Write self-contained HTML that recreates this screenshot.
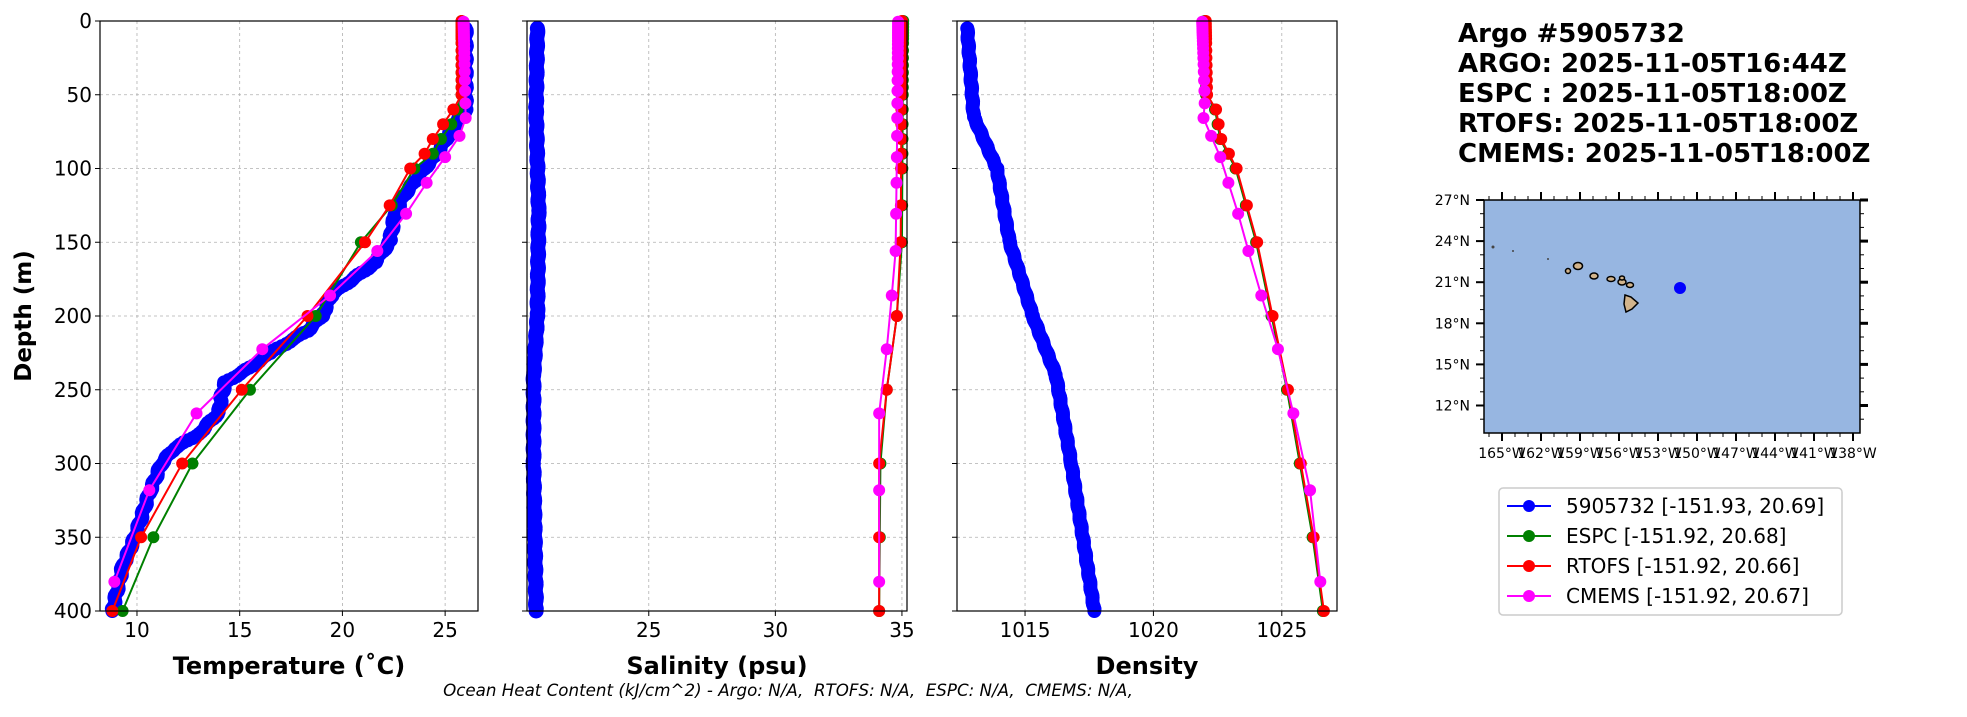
<!DOCTYPE html><html><head><meta charset="utf-8"><style>
body{margin:0;background:#fff;}
svg text{font-family:"DejaVu Sans","Liberation Sans",sans-serif;}
</style></head><body>
<svg id="s" width="1967" height="712" xmlns="http://www.w3.org/2000/svg">
<rect width="1967" height="712" fill="#fff"/>
<g id="g"></g>
<g font-weight="bold" font-size="26" fill="#000">
<text x="1458" y="42">Argo #5905732</text>
<text x="1458" y="72">ARGO: 2025-11-05T16:44Z</text>
<text x="1458" y="102">ESPC : 2025-11-05T18:00Z</text>
<text x="1458" y="132">RTOFS: 2025-11-05T18:00Z</text>
<text x="1458" y="162">CMEMS: 2025-11-05T18:00Z</text>
</g>
<text x="788" y="696" font-size="16.7" font-style="italic" text-anchor="middle" style="white-space:pre">Ocean Heat Content (kJ/cm^2) - Argo: N/A,&#160; RTOFS: N/A,&#160; ESPC: N/A,&#160; CMEMS: N/A,</text>
<text transform="translate(31,316) rotate(-90)" font-size="23" font-weight="bold" text-anchor="middle">Depth (m)</text>
<text x="289" y="674" font-size="24" font-weight="bold" text-anchor="middle">Temperature (˚C)</text>
<text x="717" y="674" font-size="24" font-weight="bold" text-anchor="middle">Salinity (psu)</text>
<text x="1147" y="674" font-size="24" font-weight="bold" text-anchor="middle">Density</text>
</svg>
<script>
const g=document.getElementById('g');let h='';
const T=21,B=611;const yd=d=>T+d*(B-T)/400;
function panel(L,R,x0,x1,ticks,data,grid){
 const xv=v=>L+(v-x0)*(R-L)/(x1-x0);
 h+=`<g stroke="#b0b0b0" stroke-width="0.8" stroke-dasharray="3,3">`;
 for(let d=50;d<400;d+=50)h+=`<line x1="${L}" x2="${R}" y1="${yd(d)}" y2="${yd(d)}"/>`;
 ticks.forEach(t=>h+=`<line x1="${xv(t)}" x2="${xv(t)}" y1="${T}" y2="${B}"/>`);
 h+=`</g><g>`;
 data.forEach(([col,pts,r,dense])=>{
  let P=pts;
  if(dense){P=[];for(let i=0;i<pts.length-1;i++){const[a,b]=[pts[i],pts[i+1]];const n=Math.ceil((b[0]-a[0])/1.5);for(let k=0;k<n;k++){const f=k/n;P.push([a[0]+f*(b[0]-a[0]),a[1]+f*(b[1]-a[1])+(Math.sin(i*7+k)*0.02*(dense))]);}}P.push(pts[pts.length-1]);}
  h+=`<polyline fill="none" stroke="${col}" stroke-width="2" points="${P.map(p=>xv(p[1])+','+yd(p[0])).join(' ')}"/>`;
  P.forEach(p=>h+=`<circle cx="${xv(p[1])}" cy="${yd(p[0])}" r="${r}" fill="${col}"/>`);
 });
 h+=`</g><rect x="${L}" y="${T}" width="${R-L}" height="${B-T}" fill="none" stroke="#000" stroke-width="1.2"/>`;
 ticks.forEach(t=>h+=`<line x1="${xv(t)}" x2="${xv(t)}" y1="${B}" y2="${B+5}" stroke="#000"/><text x="${xv(t)}" y="${B+26}" font-size="20" text-anchor="middle">${t}</text>`);
 for(let d=0;d<=400;d+=50){h+=`<line x1="${L-5}" x2="${L}" y1="${yd(d)}" y2="${yd(d)}" stroke="#000"/>`;if(grid)h+=`<text x="${L-8}" y="${yd(d)+7}" font-size="20" text-anchor="end">${d}</text>`;}
}
const ED=[0,2,4,6,8,10,12,15,20,25,30,35,40,45,50,60,70,80,90,100,125,150,200,250,300,350,400];
const CD=[0.5,1.5,2.6,3.8,5,6.4,7.9,9.6,11.4,13.5,15.8,18.5,21.6,25.2,29.4,34.4,40.3,47.4,55.8,65.8,77.9,92.3,109.7,130.7,155.9,186.1,222.5,266,318.1,380.2];
function interp(tab,d){for(let i=0;i<tab.length-1;i++){if(d<=tab[i+1][0]){const f=(d-tab[i][0])/(tab[i+1][0]-tab[i][0]);return tab[i][1]+f*(tab[i+1][1]-tab[i][1]);}}return tab[tab.length-1][1];}
const mk=(D,tab)=>D.map(d=>[d,interp(tab,d)]);
const aT=[[5,26.0],[60,26.0],[70,25.5],[90,24.6],[100,24.0],[120,22.9],[135,22.5],[150,22.3],[165,21.5],[175,20.5],[185,19.5],[200,19.0],[210,18.3],[225,16.5],[235,15.5],[245,14.3],[255,14.1],[265,14.0],[280,13.0],[290,11.8],[300,11.2],[320,10.6],[350,9.9],[370,9.3],[400,8.8]];
const eT=[[0,25.8],[50,25.8],[60,25.6],[70,25.3],[80,24.8],[90,24.4],[100,23.5],[125,22.4],[150,20.9],[200,18.7],[250,15.5],[300,12.7],[350,10.8],[400,9.3]];
const rT=[[0,25.8],[50,25.8],[60,25.4],[70,24.9],[80,24.4],[90,24.0],[100,23.3],[125,22.3],[150,21.1],[200,18.3],[250,15.1],[300,12.2],[350,10.2],[400,8.8]];
const cT=[[0,25.9],[65.8,26.0],[77.9,25.7],[92.3,25.0],[109.7,24.1],[130.7,23.1],[155.9,21.7],[186.1,19.4],[222.5,16.1],[266,12.9],[318.1,10.6],[380.2,8.9]];
panel(100,478,8.2,26.6,[10,15,20,25],[["#0000ff",aT,7,3],["#008000",mk(ED,eT),6],["#ff0000",mk(ED,rT),6],["#ff00ff",mk(CD,cT),6]],true);
const aS=[[5,20.6],[60,20.55],[130,20.65],[200,20.6],[240,20.45],[300,20.45],[400,20.55]];
const eS=[[0,35.05],[150,35.0],[200,34.8],[250,34.4],[300,34.15],[400,34.1]];
const rS=[[0,35.0],[150,34.95],[200,34.8],[250,34.4],[300,34.1],[400,34.1]];
const cS=[[0,34.85],[92,34.8],[156,34.75],[186,34.6],[222.5,34.4],[266,34.1],[400,34.1]];
panel(527,907,20.19,35.2,[25,30,35],[["#0000ff",aS,7.5,1],["#008000",mk(ED,eS),6],["#ff0000",mk(ED,rS),6],["#ff00ff",mk(CD,cS),6]],false);
const aD=[[5,1012.75],[65,1013.0],[100,1013.9],[150,1014.4],[200,1015.3],[240,1016.2],[300,1016.8],[400,1017.7]];
const eD=[[0,1022.0],[50,1022.05],[60,1022.4],[80,1022.6],[100,1023.2],[125,1023.6],[150,1024.0],[200,1024.6],[250,1025.2],[300,1025.7],[350,1026.2],[400,1026.6]];
const cDn=[[0,1021.9],[55,1022.0],[66,1021.95],[92,1022.6],[130.7,1023.3],[155.9,1023.7],[186,1024.2],[222.5,1024.85],[266,1025.45],[318,1026.1],[380,1026.5]];
panel(957,1337,1012.35,1027.15,[1015,1020,1025],[["#0000ff",aD,7,1],["#008000",mk(ED,eD),6],["#ff0000",mk(ED,eD.map(p=>[p[0],p[1]+0.04])),6],["#ff00ff",mk(CD,cDn),6]],false);
const mL=1484,mR=1860,mT=200,mB=433;
const lx=l=>1502+(l+165)*13.0, ly=a=>200+(27-a)*13.7;
h+=`<rect x="${mL}" y="${mT}" width="${mR-mL}" height="${mB-mT}" fill="#97b6e1" stroke="#000" stroke-width="1.5"/>`;
for(let a=12;a<=27;a+=3){h+=`<line x1="${mL-8}" x2="${mL}" y1="${ly(a)}" y2="${ly(a)}" stroke="#000" stroke-width="2"/><line x1="${mR}" x2="${mR+8}" y1="${ly(a)}" y2="${ly(a)}" stroke="#000" stroke-width="3"/><text x="${mL-14}" y="${ly(a)+5}" font-size="14" text-anchor="end">${a}°N</text>`;}
for(let a=11;a<=27;a+=1)h+=`<line x1="${mL-4}" x2="${mL}" y1="${ly(a)}" y2="${ly(a)}" stroke="#000"/><line x1="${mR}" x2="${mR+4}" y1="${ly(a)}" y2="${ly(a)}" stroke="#000"/>`;
for(let l=-165;l<=-138;l+=3){h+=`<line x1="${lx(l)}" x2="${lx(l)}" y1="${mB}" y2="${mB+8}" stroke="#000" stroke-width="2"/><line x1="${lx(l)}" x2="${lx(l)}" y1="${mT-8}" y2="${mT}" stroke="#000" stroke-width="2"/><text x="${lx(l)}" y="${mB+25}" font-size="14" text-anchor="middle">${-l}°W</text>`;}
for(let l=-166;l<=-138;l+=1)h+=`<line x1="${lx(l)}" x2="${lx(l)}" y1="${mB}" y2="${mB+4}" stroke="#000"/><line x1="${lx(l)}" x2="${lx(l)}" y1="${mT-4}" y2="${mT}" stroke="#000"/>`;
const isl=[[1578,266,7,5],[1568,271,3,3],[1594,276,6,4],[1611,279,6,3],[1622,282,6,4],[1630,285,5,3],[1622,278,3,2]];
isl.forEach(i=>h+=`<ellipse cx="${i[0]}" cy="${i[1]}" rx="${i[2]/2+1}" ry="${i[3]/2+1}" fill="#d2b48c" stroke="#000" stroke-width="1.5"/>`);
h+=`<polygon points="1625,295 1631,297 1638,303 1632,309 1626,312 1624,304" fill="#d2b48c" stroke="#000" stroke-width="1.5"/>`;
h+=`<circle cx="1493" cy="247" r="1.5" fill="#444"/><circle cx="1513" cy="251" r="1" fill="#444"/><circle cx="1548" cy="259" r="1" fill="#444"/>`;
h+=`<circle cx="1680" cy="288" r="6" fill="#0000ff"/>`;
h+=`<rect x="1499" y="488" width="343" height="127" rx="4" fill="#fff" stroke="#ccc" stroke-width="1.5"/>`;
[["#0000ff","5905732 [-151.93, 20.69]"],["#008000","ESPC [-151.92, 20.68]"],["#ff0000","RTOFS [-151.92, 20.66]"],["#ff00ff","CMEMS [-151.92, 20.67]"]].forEach((e,i)=>{const y=506+i*30;h+=`<line x1="1507" x2="1551" y1="${y}" y2="${y}" stroke="${e[0]}" stroke-width="2"/><circle cx="1529" cy="${y}" r="6" fill="${e[0]}"/><text x="1566" y="${y+7}" font-size="20">${e[1]}</text>`;});
g.innerHTML=h;
</script>
</body></html>
